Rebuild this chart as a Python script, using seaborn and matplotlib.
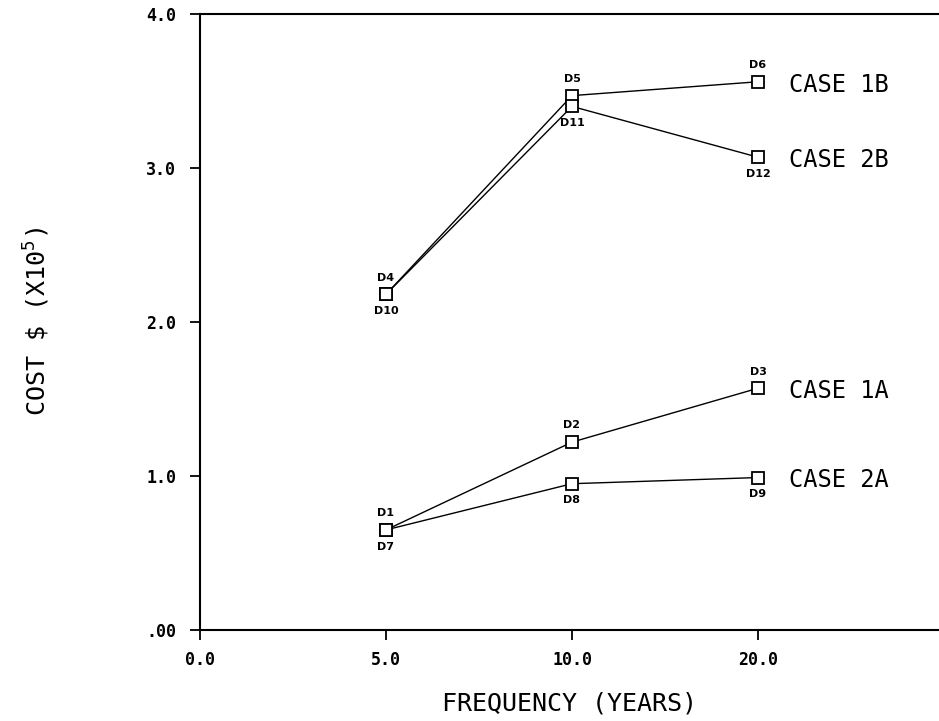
import matplotlib
matplotlib.use("Agg")
import matplotlib.pyplot as plt
import numpy as np
import pandas as pd
import seaborn as sns

# ---- data ----
freq_tick_labels = ["0.0", "5.0", "10.0", "20.0"]
freq = ["5.0", "10.0", "20.0"]
cases = ["CASE 1B", "CASE 2B", "CASE 1A", "CASE 2A"]
case_1b = [2.18, 3.47, 3.56]
case_2b = [2.18, 3.40, 3.07]
case_1a = [0.65, 1.22, 1.57]
case_2a = [0.65, 0.95, 0.99]
names_1b = ["D4", "D5", "D6"]
names_2b = ["D10", "D11", "D12"]
names_1a = ["D1", "D2", "D3"]
names_2a = ["D7", "D8", "D9"]
y_ticks = [0, 1, 2, 3, 4]
y_tick_labels = [".00", "1.0", "2.0", "3.0", "4.0"]

sns.set_theme(style="ticks")
plt.rcParams["font.family"] = ["DejaVu Sans Mono", "DejaVu Sans"]
plt.rcParams["mathtext.default"] = "regular"
plt.rcParams["text.color"] = "black"
plt.rcParams["axes.labelcolor"] = "black"

values = [case_1b, case_2b, case_1a, case_2a]
names = [names_1b, names_2b, names_1a, names_2a]
rows = []
for c, vals, nms in zip(cases, values, names):
    for f, v, n in zip(freq, vals, nms):
        rows.append({"case": c, "pos": freq_tick_labels.index(f), "cost": v, "name": n})
df = pd.DataFrame(rows)

fig = plt.figure(figsize=(9.39, 7.21), dpi=100)
ax = fig.add_axes([200 / 939, 1 - 630 / 721, 739 / 939, 616 / 721])

sns.lineplot(data=df, x="pos", y="cost", hue="case", style="case",
             palette={c: "black" for c in cases},
             markers={c: "s" for c in cases}, dashes=False,
             estimator=None, sort=False, legend=False, ax=ax,
             linewidth=1.0, markersize=9, markerfacecolor="white",
             markeredgecolor="black", markeredgewidth=1.3)
for ln in ax.lines:
    ln.set_markerfacecolor("white")
    ln.set_markeredgecolor("black")

# point labels: case "1" series above, case "2" series below
for _, r in df.iterrows():
    dy = 12 if r["case"][5] == "1" else -12
    ax.annotate(r["name"], (r["pos"], r["cost"]), xytext=(0, dy),
                textcoords="offset points", ha="center", va="center",
                fontsize=8, fontweight="bold", family="DejaVu Sans",
                color="black")

# case labels at the end of each series
for c in cases:
    last = df[df["case"] == c].iloc[-1]
    ax.annotate(c, (last["pos"], last["cost"]), xytext=(22, -2),
                textcoords="offset points", ha="left", va="center",
                fontsize=17, color="black")

ax.set_xlim(0, 739 / 186)
ax.set_ylim(0, 4.0)
ax.set_xticks(range(len(freq_tick_labels)))
ax.set_xticklabels(freq_tick_labels)
ax.set_yticks(y_ticks)
ax.set_yticklabels(y_tick_labels)
ax.tick_params(axis="both", direction="out", length=7, width=1.3,
               labelsize=12, colors="black")
ax.tick_params(axis="y", pad=10)
ax.tick_params(axis="x", pad=8)
for lab in ax.get_xticklabels() + ax.get_yticklabels():
    lab.set_fontweight("bold")

ax.spines["right"].set_visible(False)
for s in ["left", "bottom", "top"]:
    ax.spines[s].set_linewidth(1.5)
    ax.spines[s].set_color("black")

ax.set_xlabel("FREQUENCY (YEARS)", fontsize=18, labelpad=16)
ax.set_ylabel(r"COST \$ (X10$^{5}$)", fontsize=18)
ax.yaxis.set_label_coords(-0.2, 0.5)

fig.savefig("out.png", dpi=100, facecolor="white")
